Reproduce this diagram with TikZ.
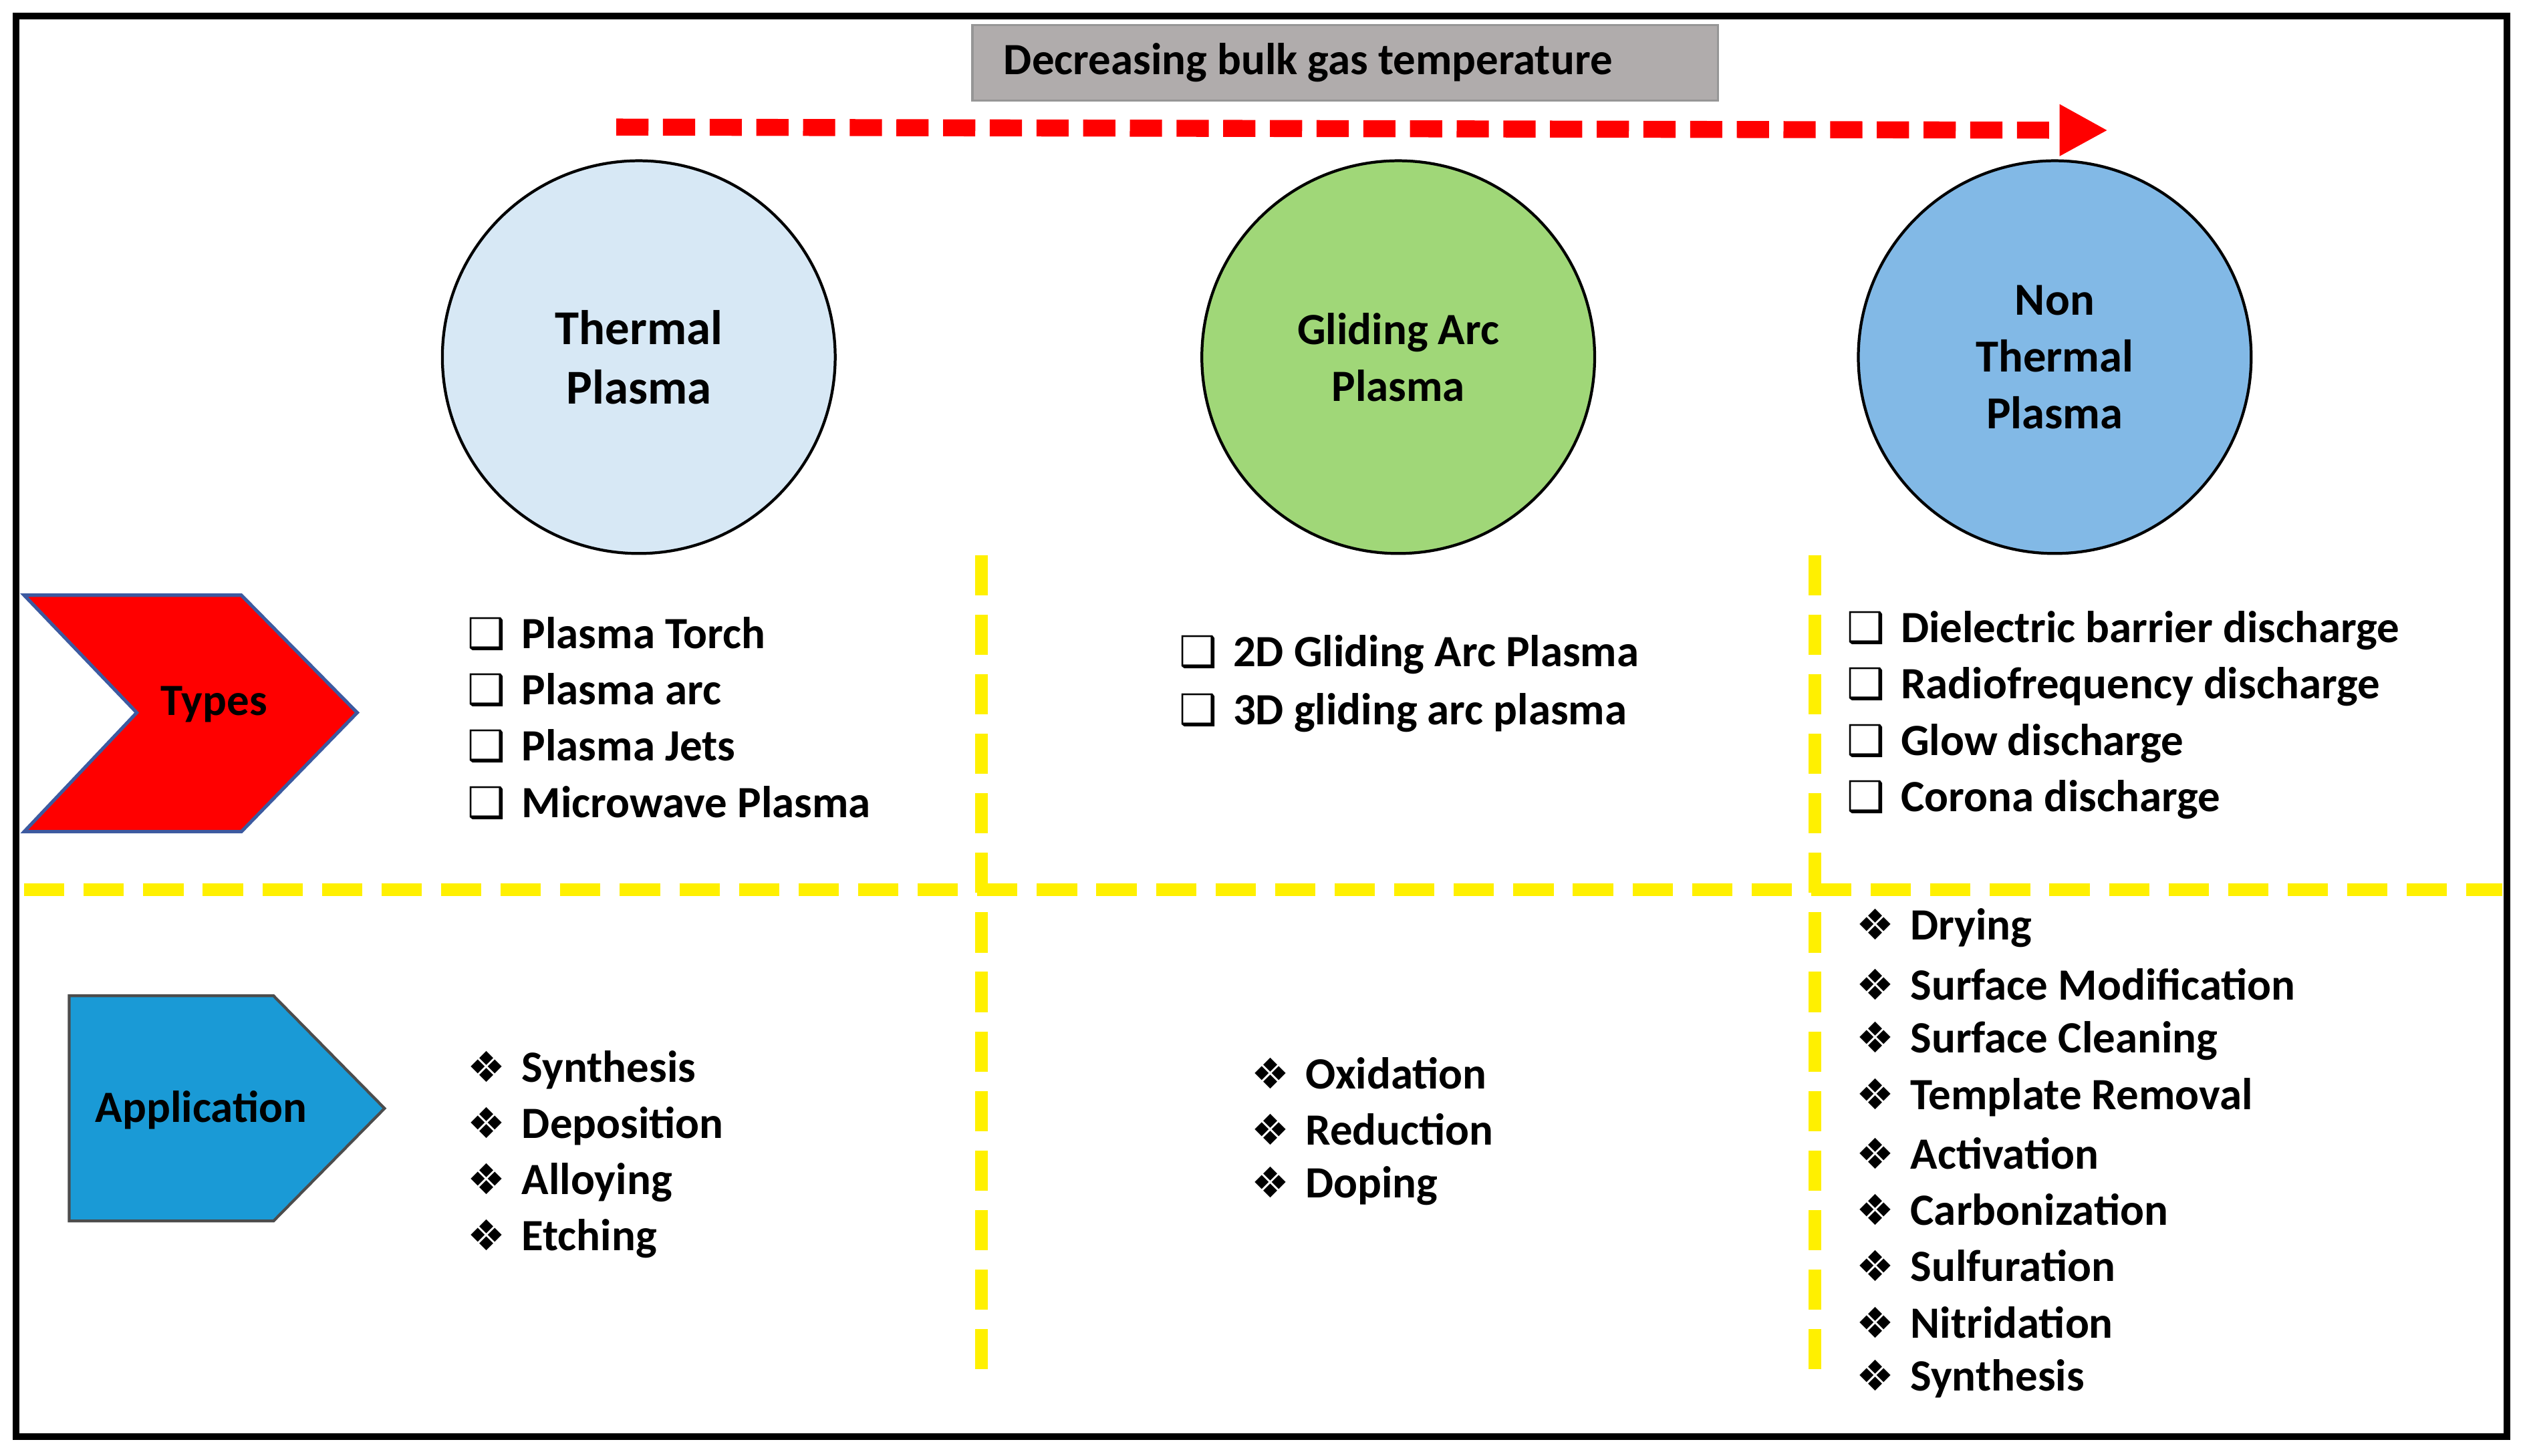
\documentclass[tikz,border=0pt]{standalone}
\usepackage{fontspec}
\setmainfont{Carlito}
\newfontfamily\symf{DejaVu Sans}
\usetikzlibrary{arrows.meta}
\begin{document}
\begin{tikzpicture}[x=0.01cm,y=-0.01cm,
  txt/.style={font=\fontsize{7.9}{9}\selectfont\bfseries,anchor=west,inner sep=0pt},
  ttl/.style={font=\fontsize{8.6}{10.5}\selectfont\bfseries,align=center},
  circ/.style={circle,draw=black,line width=0.5pt,minimum size=2.44cm},
  ydash/.style={draw={rgb,255:red,255;green,240;blue,0},line width=2.2pt,dash pattern=on 0.25cm off 0.12cm}]
\useasboundingbox (0,0) rectangle (1568,904.7);
\draw[line width=1.1pt] (10,10) rectangle (1558,893);
\node[fill={rgb,255:red,176;green,172;blue,172},draw={rgb,255:red,150;green,150;blue,150},minimum width=4.63cm,minimum height=0.47cm] (hdr) at (836,39) {};
\node[font=\fontsize{7.9}{9}\selectfont\bfseries] (hdt) at (813,39) {Decreasing bulk gas temperature};
\coordinate (as) at (383,79); \coordinate (ae) at (1310,81);
\draw[red,line width=3pt,dash pattern=on 0.2cm off 0.09cm,-{Triangle[length=0.3cm,width=0.3cm]}] (as) -- (ae);
\node[circ,fill={rgb,255:red,215;green,232;blue,245}] (c1) at (397,222) {};
\node[ttl] at (c1) {Thermal\\Plasma};
\node[circ,fill={rgb,255:red,160;green,215;blue,120}] (c2) at (869,222) {};
\node[ttl,font=\fontsize{7.9}{10}\selectfont\bfseries] at (c2) {Gliding Arc\\Plasma};
\node[circ,fill={rgb,255:red,130;green,185;blue,230}] (c3) at (1277,222) {};
\node[ttl,font=\fontsize{8.1}{10}\selectfont\bfseries] at (c3) {Non\\Thermal\\Plasma};
\draw[ydash] (15,553) -- (1555,553);
\draw[ydash] (610,345) -- (610,862);
\draw[ydash] (1128,345) -- (1128,862);
\draw[fill=red,draw={rgb,255:red,60;green,90;blue,160},line width=0.6pt] (15,370) -- (150,370) -- (222,443) -- (150,517) -- (15,517) -- (85,443) -- cycle;
\node[font=\fontsize{7.9}{9}\selectfont\bfseries] (ty) at (133,438) {Types};
\draw[fill={rgb,255:red,26;green,154;blue,214},draw=black!70,line width=0.5pt] (43,619) -- (170,619) -- (239,689) -- (170,759) -- (43,759) -- cycle;
\node[font=\fontsize{7.9}{9}\selectfont\bfseries] (ap) at (125,690) {Application};
\newcommand{\bx}{{\symf\fontsize{7.5}{8}\selectfont ❑}\hspace{0.1cm}}
\newcommand{\dm}{{\symf\fontsize{7.5}{8}\selectfont ❖}\hspace{0.1cm}}
\foreach \t [count=\i] in {Plasma Torch,Plasma arc,Plasma Jets,Microwave Plasma}
  \node[txt] (ta\i) at (290,359+35*\i) {\bx\t};
\foreach \t [count=\i] in {2D Gliding Arc Plasma,3D gliding arc plasma}
  \node[txt] (tb\i) at (732,371+36*\i) {\bx\t};
\foreach \t [count=\i] in {Dielectric barrier discharge,Radiofrequency discharge,Glow discharge,Corona discharge}
  \node[txt] (tc\i) at (1147,357+35*\i) {\bx\t};
\foreach \t [count=\i] in {Synthesis,Deposition,Alloying,Etching}
  \node[txt] (aa\i) at (290,630+35*\i) {\dm\t};
\foreach \t [count=\i] in {Oxidation,Reduction,Doping}
  \node[txt] (ab\i) at (777,632+35*\i) {\dm\t};
\foreach \t [count=\i] in {Drying,Surface Modification,Surface Cleaning,Template Removal,Activation,Carbonization,Sulfuration,Nitridation,Synthesis}
  \node[txt] (ac\i) at (1153,542+35*\i) {\dm\t};
\end{tikzpicture}
\end{document}
